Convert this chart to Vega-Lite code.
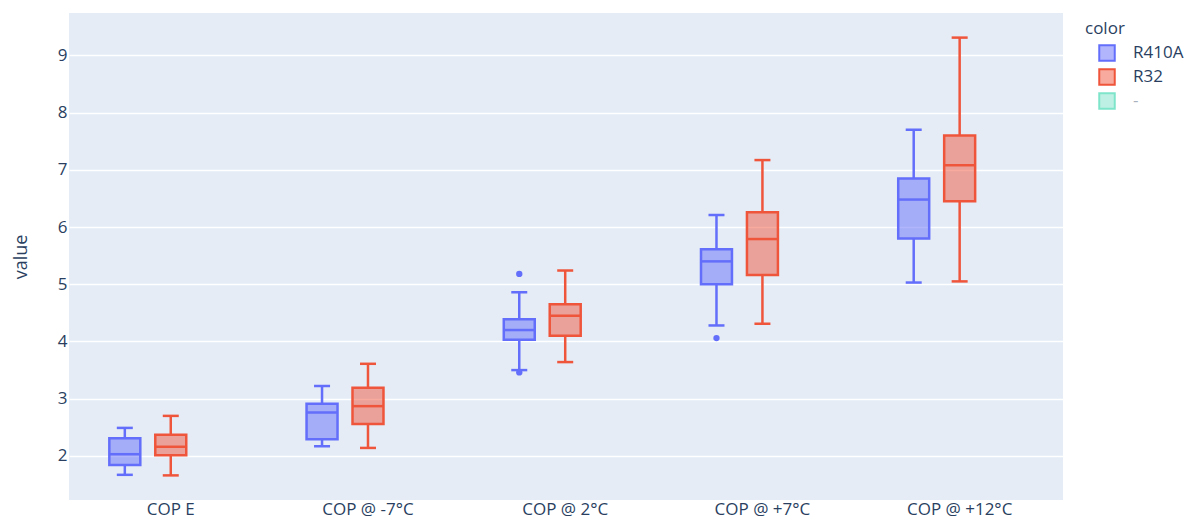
{
  "$schema": "https://vega.github.io/schema/vega-lite/v6.json",
  "width": 994,
  "height": 487,
  "autosize": {"type": "none"},
  "padding": {"left": 69, "top": 13, "right": 121, "bottom": 19},
  "background": "white",
  "config": {
    "view": {"fill": "#E5ECF6", "stroke": null},
    "font": "Open Sans",
    "axis": {
      "domain": false,
      "ticks": false,
      "gridColor": "white",
      "gridWidth": 1.3,
      "labelColor": "#2a3f5f",
      "labelFont": "Open Sans",
      "labelFontSize": 17,
      "titleColor": "#2a3f5f",
      "titleFont": "Open Sans",
      "titleFontWeight": "normal",
      "titleFontSize": 18
    }
  },
  "datasets": {
    "boxes": [
      {"cat": "COP E", "grp": "R410A", "lo": 1.67, "q1": 1.84, "med": 2.03, "q3": 2.31, "hi": 2.49},
      {"cat": "COP E", "grp": "R32", "lo": 1.66, "q1": 2.01, "med": 2.16, "q3": 2.37, "hi": 2.70},
      {"cat": "COP @ -7°C", "grp": "R410A", "lo": 2.17, "q1": 2.29, "med": 2.76, "q3": 2.91, "hi": 3.22},
      {"cat": "COP @ -7°C", "grp": "R32", "lo": 2.14, "q1": 2.56, "med": 2.87, "q3": 3.19, "hi": 3.61},
      {"cat": "COP @ 2°C", "grp": "R410A", "lo": 3.50, "q1": 4.03, "med": 4.20, "q3": 4.39, "hi": 4.86},
      {"cat": "COP @ 2°C", "grp": "R32", "lo": 3.64, "q1": 4.10, "med": 4.45, "q3": 4.65, "hi": 5.24},
      {"cat": "COP @ +7°C", "grp": "R410A", "lo": 4.28, "q1": 5.00, "med": 5.40, "q3": 5.61, "hi": 6.21},
      {"cat": "COP @ +7°C", "grp": "R32", "lo": 4.31, "q1": 5.16, "med": 5.79, "q3": 6.26, "hi": 7.17},
      {"cat": "COP @ +12°C", "grp": "R410A", "lo": 5.03, "q1": 5.80, "med": 6.48, "q3": 6.85, "hi": 7.70},
      {"cat": "COP @ +12°C", "grp": "R32", "lo": 5.05, "q1": 6.45, "med": 7.08, "q3": 7.60, "hi": 9.31}
    ],
    "outliers": [
      {"cat": "COP @ 2°C", "grp": "R410A", "value": 5.18},
      {"cat": "COP @ 2°C", "grp": "R410A", "value": 3.46},
      {"cat": "COP @ +7°C", "grp": "R410A", "value": 4.06}
    ]
  },
  "data": {"name": "boxes"},
  "encoding": {
    "x": {
      "field": "cat",
      "type": "nominal",
      "sort": ["COP E", "COP @ -7°C", "COP @ 2°C", "COP @ +7°C", "COP @ +12°C"],
      "scale": {"type": "band", "paddingInner": 0, "paddingOuter": 0.02, "align": 0.4},
      "axis": {"title": null, "labelAngle": 0, "labelPadding": 1, "grid": false}
    },
    "xOffset": {
      "field": "grp",
      "type": "nominal",
      "scale": {"domain": ["R410A", "R32", "-"], "paddingInner": 0.326, "paddingOuter": 0.809}
    },
    "color": {
      "field": "grp",
      "type": "nominal",
      "scale": {"domain": ["R410A", "R32", "-"], "range": ["#636efa", "#EF553B", "#00cc96"]},
      "legend": {
        "title": "color",
        "orient": "none",
        "legendX": 1016,
        "legendY": 8,
        "titleFontSize": 17,
        "titleFontWeight": "normal",
        "titleColor": "#2a3f5f",
        "titleFont": "Open Sans",
        "titlePadding": 6,
        "labelFontSize": 17,
        "labelColor": "#2a3f5f",
        "labelFont": "Open Sans",
        "labelOffset": 17,
        "symbolType": "square",
        "symbolSize": 240,
        "symbolOffset": 13,
        "symbolStrokeWidth": 2,
        "rowPadding": 0,
        "encode": {
          "symbols": {
            "update": {
              "fillOpacity": {"value": 0.5},
              "strokeOpacity": {"value": 1},
              "opacity": [{"test": "datum.value === '-'", "value": 0.5}, {"value": 1}]
            }
          },
          "labels": {
            "update": {
              "opacity": [{"test": "datum.value === '-'", "value": 0.4}, {"value": 1}]
            }
          }
        }
      }
    }
  },
  "layer": [
    {
      "mark": {"type": "rule", "strokeWidth": 2.5},
      "encoding": {
        "y": {"field": "lo", "type": "quantitative", "scale": {"domain": [1.23, 9.74], "nice": false, "zero": false}, "axis": {"title": "value", "values": [2, 3, 4, 5, 6, 7, 8, 9], "format": "d", "labelPadding": 2, "titlePadding": 27}},
        "y2": {"field": "q1"}
      }
    },
    {
      "mark": {"type": "rule", "strokeWidth": 2.5},
      "encoding": {
        "y": {"field": "q3", "type": "quantitative"},
        "y2": {"field": "hi"}
      }
    },
    {
      "mark": {"type": "tick", "size": 16, "thickness": 2.5, "opacity": 1},
      "encoding": {"y": {"field": "lo", "type": "quantitative"}}
    },
    {
      "mark": {"type": "tick", "size": 16, "thickness": 2.5, "opacity": 1},
      "encoding": {"y": {"field": "hi", "type": "quantitative"}}
    },
    {
      "mark": {"type": "bar", "fillOpacity": 0.5, "strokeWidth": 2.5},
      "encoding": {
        "y": {"field": "q1", "type": "quantitative"},
        "y2": {"field": "q3"},
        "stroke": {"field": "grp", "type": "nominal", "scale": {"domain": ["R410A", "R32", "-"], "range": ["#636efa", "#EF553B", "#00cc96"]}, "legend": null}
      }
    },
    {
      "mark": {"type": "tick", "size": 31, "thickness": 2.5, "opacity": 1},
      "encoding": {"y": {"field": "med", "type": "quantitative"}}
    },
    {
      "data": {"name": "outliers"},
      "mark": {"type": "point", "filled": true, "size": 40, "opacity": 1},
      "encoding": {"y": {"field": "value", "type": "quantitative"}}
    }
  ]
}
